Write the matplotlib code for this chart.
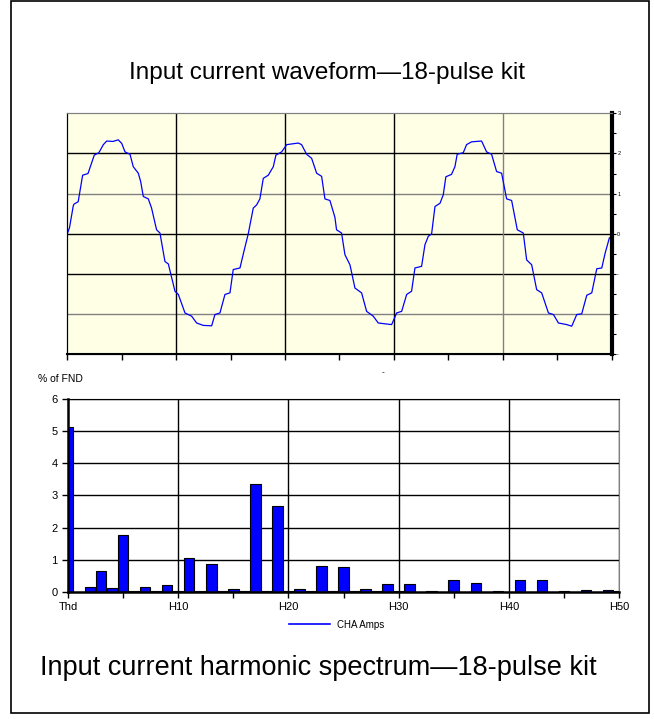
import matplotlib
matplotlib.use('Agg')
import matplotlib.pyplot as plt
from matplotlib.patches import Rectangle
from matplotlib.lines import Line2D

plt.rcParams['font.family'] = ['Liberation Sans', 'DejaVu Sans']

# waveform: time (ms) and current
t_ms = [0.0, 0.2, 0.55, 0.62, 1.0, 1.41, 1.9, 2.48, 2.9, 3.31, 3.62, 4.2, 4.68, 5.0, 5.3, 5.76,
        6.06, 6.52, 6.74, 6.98, 7.44, 7.74, 8.2, 8.51, 8.97, 9.28, 9.89, 10.2, 10.81, 11.42,
        11.88, 12.49, 13.26, 13.56, 14.02, 14.48, 14.94, 15.24, 15.86, 16.22, 16.62,
        17.08, 17.39, 17.69, 18.0, 18.46, 18.92, 19.16, 19.69, 20.15, 21.22, 21.52, 21.98,
        22.44, 22.9, 23.36, 23.66, 24.12, 24.58, 24.73, 25.19, 25.5, 25.96, 26.42, 27.03,
        27.49, 28.1, 28.56, 29.17, 29.79, 30.25, 30.71, 31.17, 31.62, 31.93, 32.54, 32.85,
        33.16, 33.46, 33.77, 34.23, 34.53, 34.77, 35.29, 35.6, 35.81, 36.37, 36.67, 37.13,
        38.05, 38.51, 38.97, 39.43, 39.89, 40.35, 40.81, 41.33, 41.88, 42.19, 42.65, 43.11,
        43.57, 44.19, 44.65, 45.11, 45.87, 46.33, 46.79, 47.25, 47.71, 48.17, 48.63, 49.09,
        49.4, 49.79]
amps = [0.0, 0.15, 0.7, 0.74, 0.8, 1.46, 1.5, 1.96, 2.02, 2.22, 2.31, 2.3, 2.34, 2.25, 2.04, 1.98,
        1.67, 1.51, 1.3, 0.93, 0.87, 0.64, 0.1, 0.02, -0.69, -0.75, -1.43, -1.51, -1.97, -2.05,
        -2.22, -2.28, -2.29, -2.01, -1.97, -1.51, -1.47, -0.89, -0.85, -0.44, 0.0,
        0.64, 0.72, 0.87, 1.38, 1.46, 1.67, 1.96, 2.04, 2.22, 2.26, 2.22, 1.98,
        1.88, 1.51, 1.43, 0.87, 0.83, 0.41, 0.1, 0.02, -0.52, -0.77, -1.35, -1.47,
        -1.93, -2.05, -2.22, -2.24, -2.26, -1.97, -1.93, -1.51, -1.43, -0.85, -0.81, -0.27,
        -0.06, 0.0, 0.68, 0.76, 0.97, 1.42, 1.48, 1.67, 1.98, 2.02, 2.22, 2.29,
        2.31, 2.04, 1.98, 1.55, 1.51, 0.87, 0.83, 0.1, 0.02, -0.65, -0.77, -1.39,
        -1.47, -1.97, -2.01, -2.22, -2.26, -2.3, -2.01, -1.99, -1.53, -1.47, -0.87, -0.85,
        -0.48, -0.1]

# harmonic spectrum, % of fundamental
harm_labels = ['Thd'] + ['H%d' % i for i in range(1, 51)]
harm_pct = [5.12, 0.0, 0.15, 0.65, 0.12, 1.78, 0.03, 0.15, 0.02, 0.23,
            0.03, 1.05, 0.02, 0.88, 0.02, 0.08, 0.02, 3.36, 0.02, 2.68,
            0.02, 0.08, 0.02, 0.81, 0.02, 0.77, 0.02, 0.08, 0.02, 0.24,
            0.02, 0.24, 0.01, 0.03, 0.01, 0.36, 0.01, 0.28, 0.01, 0.02,
            0.01, 0.36, 0.01, 0.36, 0.01, 0.03, 0.01, 0.07, 0.01, 0.07, 0.02]
shown_ticks = ['Thd', 'H10', 'H20', 'H30', 'H40', 'H50']

fig = plt.figure(figsize=(6.54, 7.19), dpi=100)

# outer frame
fig.patches.append(Rectangle((0.0168, 0.0083), 0.9756, 0.9903, transform=fig.transFigure,
                             fill=False, edgecolor='black', linewidth=1.2))

fig.text(0.5, 0.898, 'Input current waveform\u201418-pulse kit', ha='center', va='center', fontsize=17.5)
fig.text(0.486, 0.071, 'Input current harmonic spectrum\u201418-pulse kit', ha='center', va='center', fontsize=19.5)

# ---- waveform
ax1 = fig.add_axes([0.1029, 0.5072, 0.8324, 0.3352])
ax1.set_facecolor('#FFFFE6')
ax1.set_xlim(0, 50)
ax1.set_ylim(-3, 3)
hcol = {2: 'black', 1: '#808080', 0: 'black', -1: 'black', -2: '#808080'}
for yv, c in hcol.items():
    ax1.axhline(yv, color=c, lw=1.0, zorder=1)
vcol = {10: 'black', 20: 'black', 30: 'black', 40: '#808080'}
for xv, c in vcol.items():
    ax1.axvline(xv, color=c, lw=1.0, zorder=1)
ax1.plot(t_ms, amps, color='#0000FF', lw=0.9, zorder=3)
ax1.set_xticks(range(0, 51, 5))
ax1.set_xticklabels([])
ax1.set_yticks([])
ax1.tick_params(axis='x', direction='out', length=4, width=1)
ax1y = ax1.twinx()
ax1y.set_ylim(-3, 3)
ax1y.set_yticks([-3, -2.5, -2, -1.5, -1, -0.5, 0, 0.5, 1, 1.5, 2, 2.5, 3])
ax1y.set_yticklabels(['-', '', '-', '', '-', '', '0', '', '1', '', '2', '', '3'], fontsize=4)
ax1y.tick_params(axis='y', direction='out', length=3, width=0.8, pad=1)
ax1y.spines['right'].set_linewidth(3)
ax1.spines['bottom'].set_linewidth(1.5)
ax1.spines['left'].set_linewidth(0.8)
ax1.spines['top'].set_color('#808080')
ax1y.spines['top'].set_color('#808080')
fig.text(0.586, 0.481, '-', fontsize=6, ha='center', va='center')

# ---- spectrum
ax2 = fig.add_axes([0.104, 0.1766, 0.8425, 0.2685])
ax2.set_xlim(0, 50)
ax2.set_ylim(0, 6)
for yv in range(1, 7):
    ax2.axhline(yv, color='black', lw=1.0, zorder=1)
for xv in range(10, 51, 10):
    ax2.axvline(xv, color='black', lw=1.0, zorder=1)
pos = list(range(len(harm_labels)))
ax2.bar(pos, harm_pct, width=0.95, color='#0000FF', edgecolor='black', linewidth=0.8, zorder=2)
ax2.set_xticks([harm_labels.index(s) for s in shown_ticks])
ax2.set_xticklabels(shown_ticks, fontsize=7.5)
ax2.set_xticks(range(5, 50, 10), minor=True)
ax2.set_yticks(range(0, 7))
ax2.tick_params(axis='both', which='both', direction='out', length=4, width=1, labelsize=8)
ax2.tick_params(axis='x', pad=3)
for s in ['left', 'bottom']:
    ax2.spines[s].set_linewidth(1.8)
    ax2.spines[s].set_zorder(4)
ax2.spines['right'].set_color('#808080')
fig.text(0.058, 0.473, '% of FND', fontsize=7.5, ha='left', va='center')

leg_line = Line2D([0], [0], color='#0000FF', lw=1.2)
fig.legend([leg_line], ['CHA Amps'], loc='center', bbox_to_anchor=(0.515, 0.131),
           frameon=False, fontsize=7, handlelength=4.2, handletextpad=0.7)

fig.savefig('out.png', dpi=100)
